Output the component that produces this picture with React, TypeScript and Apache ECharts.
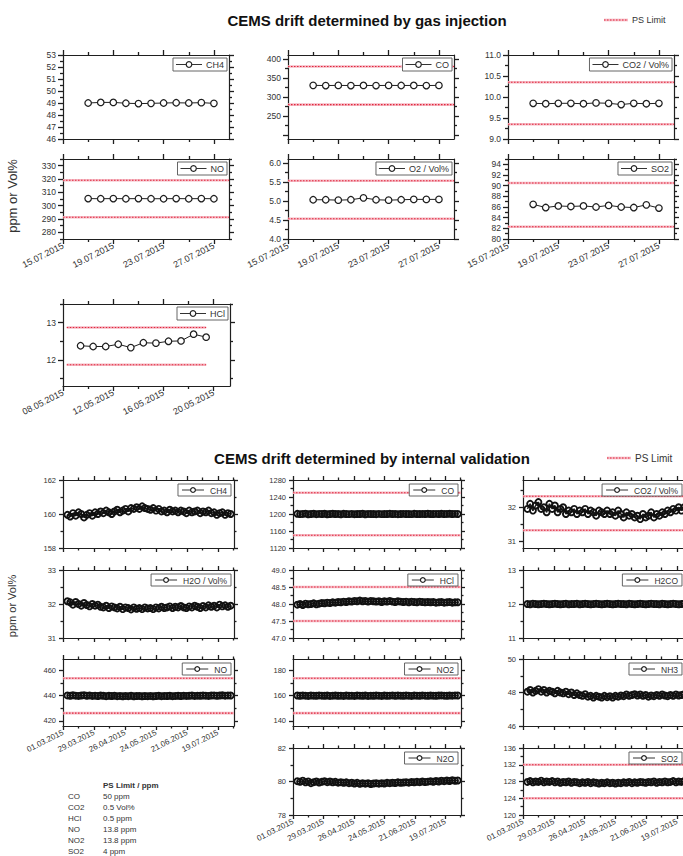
import React, { useEffect, useRef } from "react";
import * as echarts from "echarts";

/* ================= DATA ================= */
// Gas injection campaign: day offsets from 15.07.2015
const gasDays = [2, 3, 4, 5, 6, 7, 8, 9, 10, 11, 12];
const gasCH4 = [49.0, 49.05, 49.05, 48.98, 48.95, 48.97, 49.0, 49.02, 49.0, 49.03, 48.97];
const gasCO = [330.5, 330.0, 330.4, 330.0, 330.3, 330.0, 330.4, 330.1, 330.3, 330.0, 330.4];
const gasCO2 = [9.85, 9.84, 9.85, 9.85, 9.84, 9.86, 9.85, 9.82, 9.85, 9.84, 9.85];
const gasNO = [305.3, 305.2, 305.3, 305.2, 305.3, 305.2, 305.2, 305.3, 305.2, 305.3, 305.2];
const gasO2 = [5.03, 5.03, 5.02, 5.03, 5.08, 5.03, 5.02, 5.03, 5.04, 5.04, 5.04];
const gasSO2 = [86.5, 85.9, 86.2, 86.1, 86.2, 86.0, 86.3, 86.0, 85.9, 86.4, 85.8];
// HCl campaign: day offsets from 08.05.2015
const hclDays = [1.4, 2.4, 3.4, 4.4, 5.4, 6.4, 7.4, 8.4, 9.4, 10.4, 11.4];
const gasHCl = [12.38, 12.36, 12.36, 12.42, 12.33, 12.46, 12.45, 12.5, 12.51, 12.69, 12.61];

const gasCOLimits = [380, 280];
const gasCO2Limits = [10.35, 9.35];
const gasNOLimits = [319.1, 291.3];
const gasO2Limits = [5.53, 4.53];
const gasSO2Limits = [90.5, 82.3];
const gasHClLimits = [12.87, 11.87];

// Internal validation: day offsets from 01.03.2015
const valDays = [
  4, 6.5, 9, 11.5, 14, 16.5, 19, 21.5, 24, 26.5, 29, 31.5, 34, 36.5, 39, 41.5, 44, 46.5, 49, 51.5,
  54, 56.5, 59, 61.5, 64, 66.5, 69, 71.5, 74, 76.5, 79, 81.5, 84, 86.5, 89, 91.5, 94, 96.5, 99, 101.5,
  104, 106.5, 109, 111.5, 114, 116.5, 119, 121.5, 124, 126.5, 129, 131.5, 134, 136.5, 139, 141.5, 144, 146.5, 149, 151.5,
];
const valCH4 = [
  159.95, 159.85, 160.05, 159.9, 160.1, 160.0, 159.8, 159.95, 160.05, 159.9,
  160.1, 160.0, 160.15, 160.05, 160.2, 160.1, 160.0, 160.15, 160.25, 160.1,
  160.2, 160.3, 160.15, 160.35, 160.3, 160.4, 160.3, 160.45, 160.35, 160.3,
  160.25, 160.35, 160.2, 160.3, 160.15, 160.2, 160.1, 160.25, 160.15, 160.2,
  160.1, 160.2, 160.15, 160.05, 160.2, 160.1, 160.15, 160.2, 160.05, 160.15,
  160.1, 160.2, 160.05, 160.1, 159.95, 160.05, 160.1, 159.95, 160.05, 160.0,
];
const valCO = [
  1200.4, 1199.7, 1200.2, 1200.9, 1199.5, 1200.0, 1200.7, 1199.6, 1200.3, 1199.9,
  1200.5, 1199.4, 1200.1, 1200.6, 1199.8, 1200.2, 1199.5, 1200.4, 1200.0, 1199.7,
  1200.3, 1199.6, 1200.1, 1199.9, 1200.5, 1199.5, 1200.2, 1199.8, 1200.0, 1199.6,
  1200.3, 1199.7, 1200.1, 1199.8, 1200.4, 1199.9, 1200.2, 1199.6, 1200.0, 1200.3,
  1199.8, 1200.1, 1199.7, 1200.4, 1200.0, 1199.8, 1200.2, 1199.9, 1200.5, 1200.1,
  1199.8, 1200.3, 1200.0, 1200.4, 1199.9, 1200.2, 1200.5, 1200.0, 1200.3, 1200.1,
];
const valCO2 = [
  31.95, 32.1, 31.9, 32.05, 32.15, 31.95, 32.0, 31.85, 32.1, 31.95,
  32.05, 31.85, 31.95, 32.0, 31.8, 31.9, 31.85, 31.95, 31.8, 31.9,
  31.85, 31.95, 31.8, 31.9, 31.85, 31.75, 31.9, 31.85, 31.8, 31.9,
  31.8, 31.85, 31.75, 31.9, 31.8, 31.7, 31.85, 31.75, 31.8, 31.7,
  31.75, 31.65, 31.8, 31.7, 31.75, 31.85, 31.7, 31.8, 31.75, 31.85,
  31.8, 31.9, 31.85, 31.95, 31.9, 32.0, 31.9, 32.0, 31.95, 32.05,
];
const valH2O = [
  32.08, 32.05, 31.98, 32.06, 32.0, 31.95, 32.03, 31.97, 31.93, 32.0,
  31.95, 31.98, 31.92, 31.9, 31.95, 31.88, 31.93, 31.9, 31.87, 31.92,
  31.85, 31.9, 31.88, 31.84, 31.9, 31.86, 31.88, 31.85, 31.9, 31.87,
  31.88, 31.85, 31.9, 31.87, 31.92, 31.88, 31.9, 31.93, 31.88, 31.92,
  31.9, 31.94, 31.9, 31.88, 31.93, 31.9, 31.95, 31.92, 31.88, 31.94,
  31.9, 31.96, 31.92, 31.95, 31.9, 31.98, 31.93, 31.96, 31.92, 31.95,
];
const valHCl = [
  47.98, 48.0, 47.97, 48.01, 47.99, 48.0, 48.02, 47.99, 48.01, 48.03,
  48.02, 48.04, 48.03, 48.05, 48.04, 48.06, 48.05, 48.07, 48.06, 48.08,
  48.07, 48.09, 48.08, 48.1, 48.08, 48.09, 48.07, 48.09, 48.08, 48.07,
  48.08, 48.06, 48.08, 48.07, 48.09, 48.07, 48.06, 48.08, 48.07, 48.06,
  48.07, 48.05, 48.07, 48.06, 48.05, 48.07, 48.06, 48.05, 48.06, 48.05,
  48.06, 48.04, 48.05, 48.06, 48.04, 48.05, 48.06, 48.04, 48.05, 48.05,
];
const valH2CO = [
  12.0, 11.99, 12.01, 12.0, 11.99, 12.0, 12.01, 12.0, 11.99, 12.0,
  12.01, 12.0, 11.99, 12.0, 12.01, 11.99, 12.0, 12.0, 12.01, 11.99,
  12.0, 12.01, 12.0, 11.99, 12.0, 12.01, 12.0, 11.99, 12.0, 12.01,
  12.0, 11.99, 12.0, 12.01, 12.0, 12.0, 11.99, 12.01, 12.0, 11.99,
  12.0, 12.01, 12.0, 11.99, 12.0, 12.01, 12.0, 12.0, 11.99, 12.01,
  12.0, 11.99, 12.0, 12.01, 12.0, 11.99, 12.0, 12.01, 12.0, 12.0,
];
const valNO = [
  440.2, 439.9, 440.3, 440.0, 439.8, 440.1, 440.4, 439.9, 440.2, 439.8,
  440.0, 439.7, 440.1, 439.9, 439.6, 439.9, 439.7, 440.0, 439.6, 439.8,
  439.5, 439.8, 439.6, 439.9, 439.5, 439.7, 439.8, 439.5, 439.7, 439.6,
  439.8, 439.5, 439.7, 439.9, 439.6, 439.8, 439.7, 439.9, 439.6, 439.8,
  439.9, 439.7, 440.0, 439.8, 439.9, 440.1, 439.8, 440.0, 439.9, 440.1,
  440.0, 439.8, 440.1, 440.2, 439.9, 440.1, 440.3, 440.0, 440.2, 440.1,
];
const valNO2 = [
  160.1, 159.9, 160.2, 160.0, 159.8, 160.1, 160.0, 159.9, 160.2, 160.0,
  159.9, 160.1, 159.8, 160.0, 160.1, 159.9, 160.0, 159.8, 160.1, 159.9,
  160.0, 159.8, 160.1, 160.0, 159.9, 160.1, 159.8, 160.0, 159.9, 160.1,
  160.0, 159.8, 160.1, 159.9, 160.0, 160.2, 159.9, 160.1, 160.0, 159.9,
  160.1, 160.0, 159.8, 160.1, 160.0, 159.9, 160.2, 160.0, 159.9, 160.1,
  160.0, 159.9, 160.1, 160.2, 160.0, 159.9, 160.1, 160.0, 160.2, 160.1,
];
const valNH3 = [
  48.05, 48.15, 48.0, 48.1, 48.2, 48.05, 48.15, 48.0, 48.1, 48.05,
  47.95, 48.1, 48.0, 47.95, 48.05, 47.9, 48.0, 47.85, 47.95, 47.85,
  47.8, 47.9, 47.75, 47.8, 47.7, 47.8, 47.75, 47.7, 47.8, 47.72,
  47.78, 47.7, 47.8, 47.75, 47.82, 47.78, 47.88, 47.8, 47.85, 47.9,
  47.82, 47.88, 47.8, 47.85, 47.75, 47.82, 47.78, 47.85, 47.8, 47.88,
  47.82, 47.78, 47.85, 47.8, 47.88, 47.82, 47.85, 47.9, 47.8, 47.85,
];
const valN2O = [
  80.02, 79.98, 80.05, 79.95, 80.0, 79.9, 79.96, 80.0, 79.94, 79.98,
  80.02, 79.96, 80.0, 79.95, 79.98, 79.93, 79.96, 79.92, 79.95, 79.9,
  79.93, 79.88, 79.92, 79.86, 79.9, 79.87, 79.9, 79.85, 79.88, 79.9,
  79.87, 79.9, 79.88, 79.92, 79.9, 79.93, 79.91, 79.95, 79.92, 79.94,
  79.96, 79.93, 79.97, 79.95, 79.98, 79.96, 80.0, 79.97, 79.99, 80.02,
  79.98, 80.03, 80.0, 80.05, 80.02, 80.06, 80.03, 80.08, 80.04, 80.06,
];
const valSO2 = [
  127.9, 128.1, 127.8, 128.0, 127.9, 128.2, 127.8, 128.0, 127.9, 128.1,
  127.8, 128.0, 127.7, 127.9, 127.8, 128.0, 127.7, 127.9, 127.8, 127.6,
  127.8, 127.7, 127.9, 127.6, 127.8, 127.7, 127.5, 127.7, 127.6, 127.8,
  127.6, 127.7, 127.5, 127.7, 127.6, 127.8, 127.7, 127.9, 127.6, 127.8,
  127.7, 127.9, 127.8, 127.7, 127.9, 127.8, 128.0, 127.7, 127.9, 127.8,
  128.0, 127.8, 127.9, 128.1, 127.8, 128.0, 127.9, 128.1, 127.8, 128.0,
];

const valCOLimits = [1250, 1150];
const valCO2Limits = [32.32, 31.32];
const valHClLimits = [48.5, 47.5];
const valNOLimits = [453.8, 426.2];
const valNO2Limits = [173.8, 146.2];
const valSO2Limits = [132, 124];

// Tick labels
const gasDateTicks = [0, 4, 8, 12];
const gasDateMinorTicks = [2, 6, 10];
const gasDateLabels = ["15.07.2015", "19.07.2015", "23.07.2015", "27.07.2015"];
const hclDateLabels = ["08.05.2015", "12.05.2015", "16.05.2015", "20.05.2015"];
const valDateTicks = [0, 28, 56, 84, 112, 140];
const valDateMinorTicks = [14, 42, 70, 98, 126, 154];
const valDateLabels = ["01.03.2015", "29.03.2015", "26.04.2015", "24.05.2015", "21.06.2015", "19.07.2015"];

const yCH4g = ["46", "47", "48", "49", "50", "51", "52", "53"];
const yCOg = ["250", "300", "350", "400"];
const yCO2g = ["9.0", "9.5", "10.0", "10.5", "11.0"];
const yNOg = ["280", "290", "300", "310", "320", "330"];
const yO2g = ["4.0", "4.5", "5.0", "5.5", "6.0"];
const ySO2g = ["80", "82", "84", "86", "88", "90", "92", "94"];
const yHClg = ["12", "13"];
const yCH4v = ["158", "160", "162"];
const yCOv = ["1120", "1160", "1200", "1240", "1280"];
const yCO2v = ["31", "32"];
const yH2Ov = ["31", "32", "33"];
const yHClv = ["47.0", "47.5", "48.0", "48.5", "49.0"];
const yH2COv = ["11", "12", "13"];
const yNOv = ["420", "440", "460"];
const yNO2v = ["140", "160", "180"];
const yNH3v = ["46", "48", "50"];
const yN2Ov = ["78", "80", "82"];
const ySO2v = ["120", "124", "128", "132", "136"];

const psGases = ["CO", "CO2", "HCl", "NO", "NO2", "SO2"];
const psLimits = ["50 ppm", "0.5 Vol%", "0.5 ppm", "13.8 ppm", "13.8 ppm", "4 ppm"];

/* ================= LAYOUT / STYLE ================= */
const INK = "#1f1f1f";
const TXT = "#333";
const PINK = "#f6b9c4";
const RED = "#e0283d";
const FONT = '"Liberation Sans", Arial, Helvetica, sans-serif';
const CANVAS_W = 683;

const TOP_X = [0, 13.2];
const HCL_X = [0, 13.3];
const VAL_X = [0, 154.5];
const TC = [63, 288, 508];
const TW = 166;
const TR1: [number, number] = [55, 84];
const TR2: [number, number] = [159, 80];
const BC = [63, 293, 523];
const BW = [171, 168, 170];
const BR: [number, number][] = [[480, 68], [570, 68], [659, 67], [748, 67]];

type Spec = {
  label: string;
  box: number[];
  xr: number[];
  xt: number[];
  xm: number[];
  xl: string[] | null;
  yr: number[];
  ystep: number;
  yl: string[];
  days: number[];
  vals: number[];
  lim: number[] | null;
  span: number[];
  big: boolean;
};

const gasSpec = (label, col, row, yr, ystep, yl, vals, lim, showX): Spec => ({
  label,
  box: [TC[col], row[0], TW, row[1]],
  xr: TOP_X, xt: gasDateTicks, xm: gasDateMinorTicks, xl: showX ? gasDateLabels : null,
  yr, ystep, yl, days: gasDays, vals, lim, span: TOP_X, big: true,
});
const valSpec = (label, col, row, yr, ystep, yl, vals, lim, showX): Spec => ({
  label,
  box: [BC[col], BR[row][0], BW[col], BR[row][1]],
  xr: VAL_X, xt: valDateTicks, xm: valDateMinorTicks, xl: showX ? valDateLabels : null,
  yr, ystep, yl, days: valDays, vals, lim, span: VAL_X, big: false,
});

const specs: Spec[] = [
  gasSpec("CH4", 0, TR1, [46, 53], 1, yCH4g, gasCH4, null, false),
  gasSpec("CO", 1, TR1, [190, 410], 50, yCOg, gasCO, gasCOLimits, false),
  gasSpec("CO2 / Vol%", 2, TR1, [9, 11], 0.5, yCO2g, gasCO2, gasCO2Limits, false),
  gasSpec("NO", 0, TR2, [275, 335], 10, yNOg, gasNO, gasNOLimits, true),
  gasSpec("O2 / Vol%", 1, TR2, [4, 6.1], 0.5, yO2g, gasO2, gasO2Limits, true),
  gasSpec("SO2", 2, TR2, [80, 95], 2, ySO2g, gasSO2, gasSO2Limits, true),
  {
    label: "HCl", box: [63, 304, 167, 82], xr: HCL_X, xt: gasDateTicks, xm: gasDateMinorTicks, xl: hclDateLabels,
    yr: [11.3, 13.5], ystep: 1, yl: yHClg, days: hclDays, vals: gasHCl, lim: gasHClLimits, span: [0.3, 11.4], big: true,
  },
  valSpec("CH4", 0, 0, [158, 162], 2, yCH4v, valCH4, null, false),
  valSpec("CO", 1, 0, [1120, 1280], 40, yCOv, valCO, valCOLimits, false),
  valSpec("CO2 / Vol%", 2, 0, [30.8, 32.8], 1, yCO2v, valCO2, valCO2Limits, false),
  valSpec("H2O / Vol%", 0, 1, [31, 33], 1, yH2Ov, valH2O, null, false),
  valSpec("HCl", 1, 1, [47, 49], 0.5, yHClv, valHCl, valHClLimits, false),
  valSpec("H2CO", 2, 1, [11, 13], 1, yH2COv, valH2CO, null, false),
  valSpec("NO", 0, 2, [416, 469], 20, yNOv, valNO, valNOLimits, true),
  valSpec("NO2", 1, 2, [136, 189], 20, yNO2v, valNO2, valNO2Limits, false),
  valSpec("NH3", 2, 2, [46, 50], 2, yNH3v, valNH3, null, false),
  valSpec("N2O", 1, 3, [78, 82], 2, yN2Ov, valN2O, null, true),
  valSpec("SO2", 2, 3, [120, 136], 4, ySO2v, valSO2, valSO2Limits, true),
];

function ticksFrom(r: number[], step: number) {
  const out: number[] = [];
  for (let k = Math.ceil(r[0] / step - 1e-9); k * step <= r[1] + 1e-9; k++) out.push(+(k * step).toFixed(6));
  return out;
}
function minorFrom(r: number[], step: number) {
  const out: number[] = [];
  for (let k = Math.floor(r[0] / step) - 1; (k + 0.5) * step <= r[1] + 1e-9; k++) {
    const v = (k + 0.5) * step;
    if (v >= r[0] - 1e-9) out.push(+v.toFixed(6));
  }
  return out;
}

let measureCtx: CanvasRenderingContext2D | null = null;
function textWidth(s: string, size: number) {
  if (!measureCtx) measureCtx = document.createElement("canvas").getContext("2d");
  if (!measureCtx) return s.length * size * 0.55;
  measureCtx.font = `${size}px "Liberation Sans", Arial, sans-serif`;
  return measureCtx.measureText(s).width;
}

function limitLegend(x: number, y: number, text: string, size: number) {
  return [
    { type: "line", z: 50, shape: { x1: x, y1: y, x2: x + 24, y2: y }, style: { stroke: PINK, lineWidth: 2.6 } },
    { type: "line", z: 51, shape: { x1: x, y1: y, x2: x + 24, y2: y }, style: { stroke: RED, lineWidth: 1.1, lineDash: [1.5, 1.5] } },
    {
      type: "text", z: 51, x: x + 28, y,
      style: { text, fontSize: size, fontFamily: FONT, fill: TXT, textVerticalAlign: "middle", verticalAlign: "middle" },
    },
  ];
}

function buildOption() {
  const grid: any[] = [];
  const xAxis: any[] = [];
  const yAxis: any[] = [];
  const series: any[] = [];
  const graphic: any[] = [];

  specs.forEach((p) => {
    const gi = grid.length;
    const [l, t, w, h] = p.box;
    grid.push({ left: l, top: t, width: w, height: h, containLabel: false, outerBoundsMode: "none", show: false });
    const fs = p.big ? 8.5 : 7.5;
    const xfs = p.big ? 9 : 8;
    const majLen = p.big ? 5 : 4;
    const minLen = p.big ? 3 : 2.5;
    const lookup = (arr: string[], vals: number[]) => (v: number) => {
      const i = vals.findIndex((u) => Math.abs(u - v) < 1e-6);
      return i >= 0 ? arr[i] : "";
    };
    const mk = (pos: string, range: number[], ticks: number[], len: number, showLine: boolean, label: any) => ({
      type: "value",
      gridIndex: gi,
      position: pos,
      min: range[0],
      max: range[1],
      splitLine: { show: false },
      splitArea: { show: false },
      axisLine: { show: showLine, onZero: false, lineStyle: { color: INK, width: 1.2 } },
      axisTick: { show: true, inside: false, length: len, customValues: ticks, lineStyle: { color: INK, width: 1.3 } },
      axisLabel: label ? label : { show: false },
      axisPointer: { show: false },
    });
    const xi = xAxis.length;
    const yi = yAxis.length;
    const xLabel = p.xl
      ? { show: true, customValues: p.xt, formatter: lookup(p.xl, p.xt), rotate: 27, margin: 6, fontSize: xfs, color: TXT, fontFamily: FONT }
      : null;
    xAxis.push(mk("bottom", p.xr, p.xt, majLen, true, xLabel));
    xAxis.push(mk("bottom", p.xr, p.xm, minLen, false, null));
    xAxis.push(mk("top", p.xr, p.xt, majLen, true, null));
    xAxis.push(mk("top", p.xr, p.xm, minLen, false, null));
    const ymaj = ticksFrom(p.yr, p.ystep);
    const ymin = minorFrom(p.yr, p.ystep);
    const yVals = p.yl.map((s) => parseFloat(s));
    const yLabel = { show: true, customValues: yVals, formatter: lookup(p.yl, yVals), margin: 7, fontSize: fs, color: TXT, fontFamily: FONT };
    yAxis.push(mk("left", p.yr, ymaj, majLen, true, yLabel));
    yAxis.push(mk("left", p.yr, ymin, minLen, false, null));
    yAxis.push(mk("right", p.yr, ymaj, majLen, true, null));
    yAxis.push(mk("right", p.yr, ymin, minLen, false, null));

    if (p.lim) {
      p.lim.forEach((v) => {
        const d = [[p.span[0], v], [p.span[1], v]];
        series.push({
          type: "line", xAxisIndex: xi, yAxisIndex: yi, data: d, symbol: "none", silent: true, z: 1,
          lineStyle: { color: PINK, width: 2.6 },
        });
        series.push({
          type: "line", xAxisIndex: xi, yAxisIndex: yi, data: d, symbol: "none", silent: true, z: 2,
          lineStyle: { color: RED, width: 1.1, type: [1.5, 1.5] },
        });
      });
    }
    series.push({
      type: "line",
      name: p.label,
      xAxisIndex: xi,
      yAxisIndex: yi,
      data: p.days.map((d, k) => [d, p.vals[k]]),
      symbol: "circle",
      showSymbol: true,
      symbolSize: p.big ? 6.5 : 6,
      silent: true,
      z: 3,
      lineStyle: { color: INK, width: p.big ? 1 : 1.5 },
      itemStyle: p.big
        ? { color: "#ffffff", borderColor: INK, borderWidth: 1.25 }
        : { color: "rgba(0,0,0,0)", borderColor: "#111", borderWidth: 1.9 },
    });

    // legend box in the panel corner (kept inside the page)
    const lfs = p.big ? 9 : 8.5;
    const pad = p.big ? 3 : 4;
    const lineLen = p.big ? 26 : 22;
    const gap = p.big ? 4 : 6;
    const lh = p.big ? 13 : 12;
    const tw = textWidth(p.label, lfs);
    const lw = pad + lineLen + gap + tw + pad;
    const gx = Math.min(l + w - (p.big ? 2 : 3) - lw, CANVAS_W - 1 - lw);
    const gy = t + (p.big ? 3 : 4);
    graphic.push({
      type: "group",
      x: gx,
      y: gy,
      children: [
        { type: "rect", z: 60, shape: { x: 0, y: 0, width: lw, height: lh }, style: { fill: "#fff", stroke: "#555", lineWidth: 0.9 } },
        { type: "line", z: 61, shape: { x1: pad, y1: lh / 2, x2: pad + lineLen, y2: lh / 2 }, style: { stroke: "#333", lineWidth: 1 } },
        {
          type: "circle", z: 62, shape: { cx: pad + lineLen / 2, cy: lh / 2, r: p.big ? 2.8 : 2.4 },
          style: { fill: "#fff", stroke: "#222", lineWidth: 1.2 },
        },
        {
          type: "text", z: 62, x: pad + lineLen + gap, y: lh / 2 + 0.5,
          style: { text: p.label, fontSize: lfs, fontFamily: FONT, fill: TXT, textVerticalAlign: "middle", verticalAlign: "middle" },
        },
      ],
    });
  });

  // titles
  graphic.push({
    type: "text", z: 70, x: 367, y: 20,
    style: {
      text: "CEMS drift determined by gas injection", fontSize: 15, fontWeight: "bold", fontFamily: FONT, fill: "#111",
      textAlign: "center", align: "center", textVerticalAlign: "middle", verticalAlign: "middle",
    },
  });
  graphic.push({
    type: "text", z: 70, x: 372, y: 458,
    style: {
      text: "CEMS drift determined by internal validation", fontSize: 15, fontWeight: "bold", fontFamily: FONT, fill: "#111",
      textAlign: "center", align: "center", textVerticalAlign: "middle", verticalAlign: "middle",
    },
  });
  graphic.push(...limitLegend(604, 20, "PS Limit", 9));
  graphic.push(...limitLegend(607, 458, "PS Limit", 10));

  // y names
  graphic.push({
    type: "text", z: 70, x: 12, y: 196, rotation: Math.PI / 2,
    style: { text: "ppm or Vol%", fontSize: 13, fontFamily: FONT, fill: TXT, textAlign: "center", align: "center", textVerticalAlign: "middle", verticalAlign: "middle" },
  });
  graphic.push({
    type: "text", z: 70, x: 12, y: 606, rotation: Math.PI / 2,
    style: { text: "ppm or Vol%", fontSize: 11, fontFamily: FONT, fill: TXT, textAlign: "center", align: "center", textVerticalAlign: "middle", verticalAlign: "middle" },
  });

  // PS limit table
  graphic.push({
    type: "text", z: 70, x: 103, y: 785,
    style: { text: "PS Limit / ppm", fontSize: 8, fontWeight: "bold", fontFamily: FONT, fill: TXT, textVerticalAlign: "middle", verticalAlign: "middle" },
  });
  psGases.forEach((g, i) => {
    graphic.push({
      type: "text", z: 70, x: 68, y: 796 + i * 11,
      style: { text: g, fontSize: 8, fontFamily: FONT, fill: TXT, textVerticalAlign: "middle", verticalAlign: "middle" },
    });
    graphic.push({
      type: "text", z: 70, x: 103, y: 796 + i * 11,
      style: { text: psLimits[i], fontSize: 8, fontFamily: FONT, fill: TXT, textVerticalAlign: "middle", verticalAlign: "middle" },
    });
  });

  return {
    animation: false,
    backgroundColor: "#ffffff",
    textStyle: { fontFamily: FONT },
    grid,
    xAxis,
    yAxis,
    series,
    graphic,
  };
}

export default function App() {
  const ref = useRef<HTMLDivElement>(null);
  useEffect(() => {
    if (!ref.current) return;
    const chart = echarts.init(ref.current, null, { renderer: "svg" });
    chart.setOption(buildOption() as any);
    return () => chart.dispose();
  }, []);
  return (
    <div
      ref={ref}
      style={{ position: "absolute", left: 0, top: 0, width: 683, height: 856, overflow: "hidden", background: "#fff" }}
    />
  );
}
